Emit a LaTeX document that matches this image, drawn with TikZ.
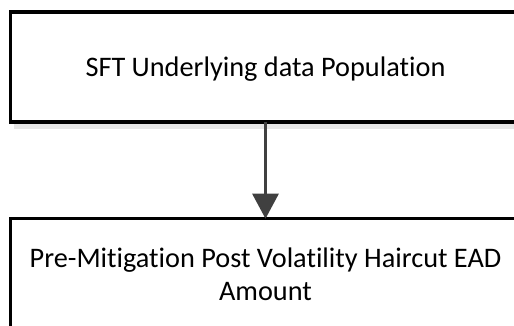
\documentclass[tikz,border=0pt]{standalone}
\usepackage{fontspec}
\setmainfont{Carlito}[Ligatures=NoCommon]
\usetikzlibrary{arrows.meta,shadows}
\definecolor{arrowgray}{HTML}{404040}
\definecolor{shadowgray}{HTML}{E6E6E6}
\begin{document}
\begin{tikzpicture}[x=1pt,y=-1pt,
  flowbox/.style={draw=black, line width=3.5pt, fill=white, rectangle,
    minimum width=510pt, minimum height=110pt, inner sep=0pt, outer sep=0pt,
    font=\fontsize{28.3}{33}\selectfont, align=center, text depth=0pt,
    general shadow={fill=shadowgray, shadow xshift=3pt, shadow yshift=-7pt}},
  flowarrow/.style={draw=arrowgray, line width=3pt,
    -{Triangle[width=26pt,length=25pt]}}]
\useasboundingbox (0,0) rectangle (514,326);
\clip (0,0) rectangle (514,326);
\node[flowbox, text height=20pt] (top) at (265.5,67) {SFT Underlying data Population};
\node[flowbox, text height=52.6pt] (bottom) at (265.5,273.7) {Pre-Mitigation Post Volatility Haircut EAD\\Amount};
\draw[flowarrow] (top.south) -- (bottom.north);
\end{tikzpicture}
\end{document}
